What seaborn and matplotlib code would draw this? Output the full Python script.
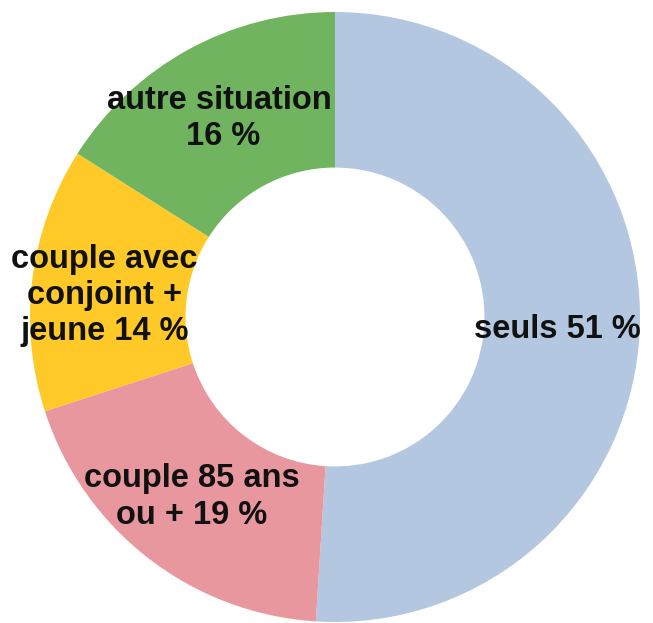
import matplotlib
matplotlib.use('Agg')
import matplotlib.pyplot as plt
import seaborn as sns

categories = ['seuls', 'couple 85 ans\nou +', 'couple avec\nconjoint +\njeune', 'autre situation\n']
values = [51, 19, 14, 16]
colors = ['#b4c7e0', '#e9979f', '#ffc928', '#71b460']

sns.set_theme(style='white')
plt.rcParams['font.family'] = ['Liberation Sans', 'DejaVu Sans']

fig = plt.figure(figsize=(6.53, 6.23), dpi=100)
ax = fig.add_axes([30 / 653, 1 / 623, 610 / 653, 610 / 623])

wedges, _ = ax.pie(values, colors=sns.color_palette(colors), startangle=90,
                   counterclock=False, radius=1,
                   wedgeprops=dict(width=0.51, edgecolor='none'))

# label positions (axes data units)
label_pos = [(0.73, -0.04), (-0.47, -0.59), (-0.755, 0.07), (-0.38, 0.65)]
for cat, val, (x, y) in zip(categories, values, label_pos):
    txt = cat + ' ' + str(val) + ' %'
    ax.text(x, y, txt, ha='center', va='center', fontsize=23.5,
            fontweight='bold', color='#111111', linespacing=1.22)

ax.set_xlim(-1, 1)
ax.set_ylim(-1, 1)
ax.set_aspect('equal')
ax.axis('off')

plt.savefig('out.png', dpi=100)
plt.close()
